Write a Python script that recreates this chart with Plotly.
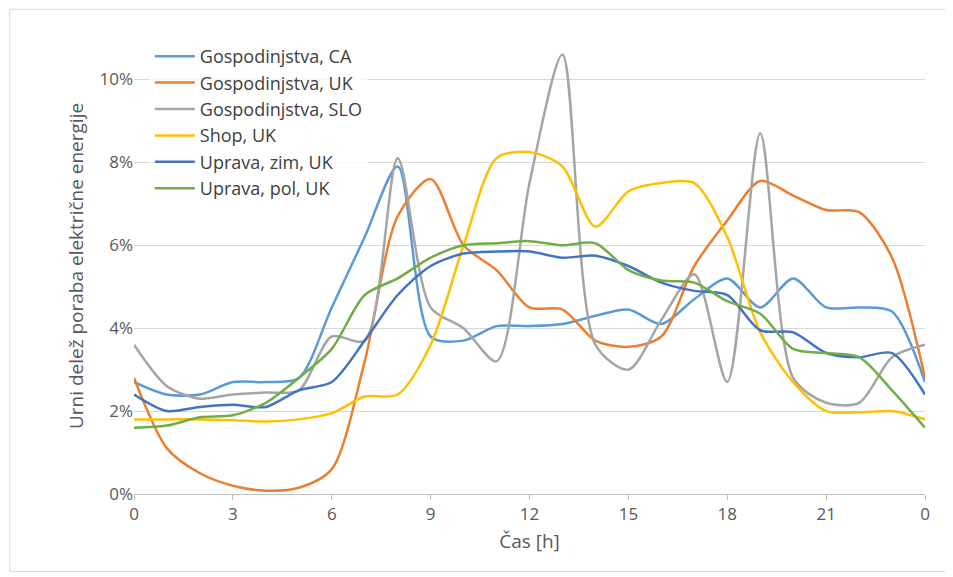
import plotly.graph_objects as go

hours = list(range(25))
tick_vals = [0, 3, 6, 9, 12, 15, 18, 21, 24]
tick_text = ["0", "3", "6", "9", "12", "15", "18", "21", "0"]
y_vals = [0, 2, 4, 6, 8, 10]
y_text = ["0%", "2%", "4%", "6%", "8%", "10%"]

names = ["Gospodinjstva, CA", "Gospodinjstva, UK", "Gospodinjstva, SLO",
         "Shop, UK", "Uprava, zim, UK", "Uprava, pol, UK"]
colors = ["#5B9BD5", "#ED7D31", "#A5A5A5", "#FFC000", "#4472C4", "#70AD47"]

ca = [2.7, 2.4, 2.4, 2.7, 2.7, 2.8, 4.5, 6.2, 7.9, 3.8, 3.7, 4.05, 4.05, 4.1, 4.3, 4.45, 4.1, 4.7, 5.2, 4.5, 5.2, 4.5, 4.5, 4.4, 2.7]
uk = [2.8, 1.1, 0.5, 0.2, 0.08, 0.15, 0.6, 3.2, 6.7, 7.6, 6.0, 5.4, 4.5, 4.45, 3.7, 3.55, 3.8, 5.5, 6.6, 7.55, 7.2, 6.85, 6.8, 5.7, 2.8]
slo = [3.6, 2.6, 2.3, 2.4, 2.45, 2.5, 3.8, 3.7, 8.1, 4.5, 4.0, 3.2, 7.5, 10.6, 3.6, 3.0, 4.2, 5.3, 2.7, 8.7, 2.8, 2.2, 2.2, 3.3, 3.6]
shop = [1.8, 1.8, 1.8, 1.78, 1.75, 1.8, 1.95, 2.35, 2.4, 3.6, 6.0, 8.1, 8.25, 7.9, 6.45, 7.3, 7.5, 7.5, 6.2, 3.9, 2.7, 2.0, 1.97, 2.0, 1.8]
zim = [2.4, 2.0, 2.1, 2.15, 2.1, 2.5, 2.7, 3.7, 4.8, 5.5, 5.8, 5.85, 5.85, 5.7, 5.75, 5.5, 5.1, 4.9, 4.8, 3.95, 3.9, 3.4, 3.3, 3.4, 2.4]
pol = [1.6, 1.65, 1.85, 1.9, 2.2, 2.8, 3.5, 4.8, 5.2, 5.7, 6.0, 6.05, 6.1, 6.0, 6.05, 5.4, 5.15, 5.1, 4.65, 4.35, 3.5, 3.4, 3.3, 2.5, 1.6]
series = [ca, uk, slo, shop, zim, pol]

fig = go.Figure()
for n, c, s in zip(names, colors, series):
    fig.add_trace(go.Scatter(x=hours, y=s, name=n, mode="lines",
                             line=dict(color=c, width=2.5, shape="spline", smoothing=0.8)))

fig.update_layout(
    width=945, height=569,
    paper_bgcolor="white", plot_bgcolor="white",
    font=dict(family="Open Sans, Liberation Sans, sans-serif", size=17, color="#595959"),
    margin=dict(l=126, r=28, t=30, b=83),
    legend=dict(x=0.02, y=1.0, xanchor="left", yanchor="top", bgcolor="rgba(255,255,255,0.8)",
                font=dict(size=18, color="#404040"), tracegroupgap=0, itemwidth=40),
    xaxis=dict(range=[0, 24], tickvals=tick_vals, ticktext=tick_text, showgrid=False,
               showline=True, linecolor="#BFBFBF", ticks="outside", tickcolor="#BFBFBF",
               title=dict(text="Čas [h]", font=dict(size=19), standoff=10),
               zeroline=False, automargin=False),
    yaxis=dict(range=[0, 11], tickvals=y_vals, ticktext=y_text,
               showgrid=True, gridcolor="#D9D9D9", zeroline=False, automargin=False,
               title=dict(text="Urni delež poraba električne energije", font=dict(size=19), standoff=10)),
    shapes=[dict(type="rect", xref="paper", yref="paper", x0=-0.157, y0=-0.17, x1=1.029, y1=1.063,
                 line=dict(color="#D9D9D9", width=1))],
)
fig.write_html("out.html")
